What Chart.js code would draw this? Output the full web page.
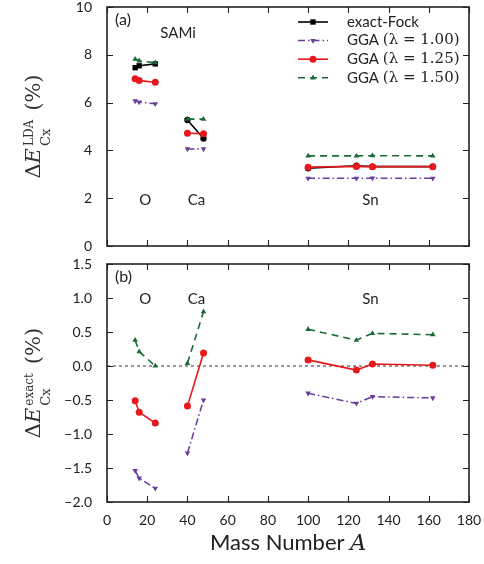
<!DOCTYPE html>
<html>
<head>
<meta charset="utf-8">
<script src="https://cdn.jsdelivr.net/npm/chart.js@4.4.0/dist/chart.umd.min.js"></script>
<style>
  html, body { margin: 0; padding: 0; background: #fff; }
  #wrap { position: relative; width: 484px; height: 564px; }
  #topChart { position: absolute; left: 0; top: 0; }
  #botChart { position: absolute; left: 0; top: 256px; }
</style>
</head>
<body>
<div id="wrap">
  <canvas id="topChart" width="484" height="256"></canvas>
  <canvas id="botChart" width="484" height="308"></canvas>
</div>
<script>
// isotopes (mass number) and which element group they belong to
const massNumbers = [14, 16, 24, 40, 48, 100, 124, 132, 162];
const elementGroup = ['O', 'O', 'O', 'Ca', 'Ca', 'Sn', 'Sn', 'Sn', 'Sn'];

// panel (a): deviation from LDA (%)
const ldaExactFock = [7.46, 7.54, 7.62, 5.27, 4.50, 3.25, 3.36, 3.32, 3.32];
const ldaGGA100 = [6.07, 6.02, 5.95, 4.06, 4.06, 2.83, 2.83, 2.84, 2.83];
const ldaGGA125 = [7.00, 6.92, 6.85, 4.72, 4.70, 3.30, 3.33, 3.32, 3.32];
const ldaGGA150 = [7.82, 7.75, 7.67, 5.31, 5.31, 3.77, 3.77, 3.78, 3.77];

// panel (b): deviation from exact-Fock (%)
const exGGA100 = [-1.54, -1.65, -1.80, -1.28, -0.50, -0.40, -0.55, -0.45, -0.47];
const exGGA125 = [-0.51, -0.68, -0.84, -0.59, 0.19, 0.09, -0.06, 0.03, 0.01];
const exGGA150 = [0.38, 0.21, 0.00, 0.04, 0.80, 0.54, 0.38, 0.48, 0.46];

// axis ticks
const xTickValues = [0, 20, 40, 60, 80, 100, 120, 140, 160, 180];
const yTicksA = [0, 2, 4, 6, 8, 10];
const yTicksB = [-2.0, -1.5, -1.0, -0.5, 0.0, 0.5, 1.0, 1.5];

const legendLabels = [['exact-Fock', ''], ['GGA ', '(λ = 1.00)'], ['GGA ', '(λ = 1.25)'], ['GGA ', '(λ = 1.50)']];
const elementLabels = [['O', 19], ['Ca', 44.5], ['Sn', 131]];

const SANS = 'Lato, "Open Sans", sans-serif';
const SERIF = '"DejaVu Serif", serif';
const INK = '#222';

// break the line between element groups
function toPoints(vals) {
  const pts = [];
  vals.forEach((v, i) => {
    if (i > 0 && elementGroup[i] !== elementGroup[i - 1]) {
      pts.push({x: (massNumbers[i] + massNumbers[i - 1]) / 2, y: null});
    }
    pts.push({x: massNumbers[i], y: v});
  });
  return pts;
}

const styles = {
  exact: {borderColor: '#000', backgroundColor: '#000', borderWidth: 1.6, borderDash: [],
    pointStyle: c => (c.raw && c.raw.x < 30 ? 'rect' : 'circle'),
    pointRadius: c => (c.raw && c.raw.x < 30 ? 3.8 : 3.2), pointRotation: 0},
  g100: {borderColor: '#6a3d9a', backgroundColor: '#6a3d9a', borderWidth: 1.5, borderDash: [7, 3, 1.5, 3],
    pointStyle: 'triangle', pointRadius: 3.2, pointRotation: 180},
  g125: {borderColor: '#e8191c', backgroundColor: '#e8191c', borderWidth: 1.6, borderDash: [],
    pointStyle: 'circle', pointRadius: 3.5, pointRotation: 0},
  g150: {borderColor: '#1b6a35', backgroundColor: '#1b6a35', borderWidth: 1.6, borderDash: [7, 5],
    pointStyle: 'triangle', pointRadius: 3.2, pointRotation: 0}
};

function ds(vals, st, order) {
  return Object.assign({data: toPoints(vals), spanGaps: false, tension: 0, order: order,
    pointBorderWidth: 0, pointHoverRadius: 0, pointBorderColor: st.borderColor,
    pointBackgroundColor: st.backgroundColor}, st);
}

function drawYLabel(ctx, cx, cy, supText) {
  const big = '21px ' + SERIF, bigIt = 'italic 21px ' + SERIF;
  const supFont = '12px ' + SERIF, subFont = '13px ' + SERIF;
  ctx.save();
  ctx.font = big; const wD = ctx.measureText('Δ').width; const wP = ctx.measureText('(%)').width;
  ctx.font = bigIt; const wE = ctx.measureText('E').width;
  ctx.font = subFont; const wSub = ctx.measureText('Cx').width;
  ctx.font = supFont; const wSup = ctx.measureText(supText).width;
  const wScript = Math.max(wSub, wSup);
  const gap = 9;
  const total = wD + wE + 2 + wScript + gap + wP;
  ctx.translate(cx, cy);
  ctx.rotate(-Math.PI / 2);
  ctx.fillStyle = '#333';
  ctx.textAlign = 'left';
  ctx.textBaseline = 'alphabetic';
  let x = -total / 2;
  ctx.font = big; ctx.fillText('Δ', x, 0); x += wD;
  ctx.font = bigIt; ctx.fillText('E', x, 0); x += wE + 2;
  ctx.font = supFont; ctx.fillText(supText, x, -7);
  ctx.font = subFont; ctx.fillText('Cx', x, 10);
  x += wScript + gap;
  ctx.font = big; ctx.fillText('(%)', x, 0);
  ctx.restore();
}

// inward ticks on all four sides plus the frame
const frameTicks = {
  id: 'frameTicks',
  afterDraw(chart, args, opts) {
    const {ctx, chartArea: a} = chart;
    const x = chart.scales.x, y = chart.scales.y;
    ctx.save();
    ctx.strokeStyle = INK;
    ctx.lineWidth = 1.1;
    ctx.beginPath();
    xTickValues.forEach(v => {
      const px = Math.round(x.getPixelForValue(v)) + 0.5;
      ctx.moveTo(px, a.bottom); ctx.lineTo(px, a.bottom - 6);
      ctx.moveTo(px, a.top); ctx.lineTo(px, a.top + 6);
    });
    opts.yTicks.forEach(v => {
      const py = Math.round(y.getPixelForValue(v)) + 0.5;
      ctx.moveTo(a.left, py); ctx.lineTo(a.left + 6, py);
      ctx.moveTo(a.right, py); ctx.lineTo(a.right - 6, py);
    });
    ctx.stroke();
    ctx.lineWidth = 1.6;
    ctx.strokeRect(a.left, a.top, a.width, a.height);
    ctx.restore();
  }
};

// panel texts, y-axis math label, legend, zero line
const panelText = {
  id: 'panelText',
  beforeDatasetsDraw(chart, args, opts) {
    if (!opts.zeroLine) return;
    const {ctx, chartArea: a} = chart;
    const py = chart.scales.y.getPixelForValue(0);
    ctx.save();
    ctx.strokeStyle = '#555';
    ctx.lineWidth = 1.2;
    ctx.setLineDash([3, 3]);
    ctx.beginPath(); ctx.moveTo(a.left, py); ctx.lineTo(a.right, py); ctx.stroke();
    ctx.restore();
  },
  afterDraw(chart, args, opts) {
    const {ctx, chartArea: a} = chart;
    const x = chart.scales.x, y = chart.scales.y;
    ctx.save();
    ctx.fillStyle = INK;
    ctx.textBaseline = 'middle';
    ctx.textAlign = 'left';
    ctx.font = '16px ' + SANS;
    ctx.fillText(opts.tag, a.left + 8, a.top + 13);
    if (opts.title) {
      ctx.font = '15px ' + SANS;
      ctx.textBaseline = 'alphabetic';
      ctx.fillText(opts.title, x.getPixelForValue(26.5), y.getPixelForValue(8.7));
    }
    ctx.font = '15px ' + SANS;
    ctx.textAlign = 'center';
    ctx.textBaseline = 'alphabetic';
    elementLabels.forEach(([t, m]) => ctx.fillText(t, x.getPixelForValue(m), y.getPixelForValue(opts.elemY)));
    ctx.restore();

    drawYLabel(ctx, 40, (a.top + a.bottom) / 2, opts.sup);

    if (opts.legend) {
      const sets = chart.data.datasets;
      const rows = [0, 1, 2, 3];
      rows.forEach(r => {
        const d = sets[r];
        const ly = 22 + r * 18.6;
        ctx.save();
        ctx.strokeStyle = d.borderColor;
        ctx.lineWidth = d.borderWidth;
        ctx.setLineDash(d.borderDash);
        ctx.beginPath(); ctx.moveTo(298, ly); ctx.lineTo(328, ly); ctx.stroke();
        ctx.setLineDash([]);
        ctx.fillStyle = d.backgroundColor;
        Chart.helpers.drawPoint(ctx, {pointStyle: r === 0 ? 'rect' : d.pointStyle, rotation: d.pointRotation,
          radius: r === 0 ? 3.8 : d.pointRadius, borderWidth: 0}, 313, ly);
        ctx.fillStyle = INK;
        ctx.textBaseline = 'middle';
        ctx.textAlign = 'left';
        ctx.font = '15px ' + SANS;
        ctx.fillText(legendLabels[r][0], 347, ly);
        const w = ctx.measureText(legendLabels[r][0]).width;
        ctx.font = '15px ' + SERIF;
        ctx.fillText(legendLabels[r][1], 347 + w, ly);
        ctx.restore();
      });
    }

    if (opts.xTitle) {
      ctx.save();
      ctx.fillStyle = INK;
      ctx.textBaseline = 'alphabetic';
      ctx.textAlign = 'left';
      ctx.font = '22px ' + SANS;
      const t1 = 'Mass Number ';
      const w1 = ctx.measureText(t1).width;
      ctx.font = 'italic 22px ' + SERIF;
      const w2 = ctx.measureText('A').width;
      const cx = (a.left + a.right) / 2;
      const sx = cx - (w1 + w2) / 2;
      ctx.font = '22px ' + SANS;
      ctx.fillText(t1, sx, 294);
      ctx.font = 'italic 22px ' + SERIF;
      ctx.fillText('A', sx + w1, 294);
      ctx.restore();
    }
  }
};

function setTicks(values) {
  return scale => { scale.ticks = values.map(v => ({value: v})); };
}
function noPad(w, h) {
  return scale => {
    if (w !== undefined) scale.width = w;
    if (h !== undefined) scale.height = h;
    scale.paddingTop = 0; scale.paddingBottom = 0;
    scale.paddingLeft = 0; scale.paddingRight = 0;
  };
}

const tickFont = {family: SANS, size: 14};

new Chart(document.getElementById('topChart'), {
  type: 'line',
  data: {
    datasets: [
      ds(ldaExactFock, styles.exact, 3),
      ds(ldaGGA100, styles.g100, 2),
      ds(ldaGGA125, styles.g125, 1),
      ds(ldaGGA150, styles.g150, 0)
    ]
  },
  options: {
    responsive: false,
    animation: false,
    devicePixelRatio: 1,
    layout: {padding: {left: 0, top: 7, right: 15, bottom: 10}},
    plugins: {
      legend: {display: false},
      tooltip: {enabled: false},
      frameTicks: {yTicks: yTicksA},
      panelText: {tag: '(a)', title: 'SAMi', elemY: 1.72, sup: 'LDA', legend: true}
    },
    scales: {
      x: {type: 'linear', min: 0, max: 180, display: false, afterBuildTicks: setTicks(xTickValues)},
      y: {
        type: 'linear', min: 0, max: 10,
        afterBuildTicks: setTicks(yTicksA),
        afterFit: noPad(107),
        grid: {display: false},
        border: {display: false},
        ticks: {color: INK, font: tickFont, padding: 7, callback: v => String(v)}
      }
    }
  },
  plugins: [frameTicks, panelText]
});

new Chart(document.getElementById('botChart'), {
  type: 'line',
  data: {
    datasets: [
      ds(ldaExactFock.map(() => null), styles.exact, 3),
      ds(exGGA100, styles.g100, 2),
      ds(exGGA125, styles.g125, 1),
      ds(exGGA150, styles.g150, 0)
    ]
  },
  options: {
    responsive: false,
    animation: false,
    devicePixelRatio: 1,
    layout: {padding: {left: 0, top: 8, right: 15, bottom: 0}},
    plugins: {
      legend: {display: false},
      tooltip: {enabled: false},
      frameTicks: {yTicks: yTicksB},
      panelText: {tag: '(b)', elemY: 0.91, sup: 'exact', zeroLine: true, xTitle: true}
    },
    scales: {
      x: {
        type: 'linear', min: 0, max: 180,
        afterBuildTicks: setTicks(xTickValues),
        afterFit: noPad(undefined, 62),
        grid: {display: false},
        border: {display: false},
        ticks: {color: INK, font: tickFont, padding: 2, maxRotation: 0, callback: v => String(v)}
      },
      y: {
        type: 'linear', min: -2.0, max: 1.5,
        afterBuildTicks: setTicks(yTicksB),
        afterFit: noPad(107),
        grid: {display: false},
        border: {display: false},
        ticks: {color: INK, font: tickFont, padding: 7, callback: v => v.toFixed(1).replace('-', '−')}
      }
    }
  },
  plugins: [frameTicks, panelText]
});
</script>
</body>
</html>
